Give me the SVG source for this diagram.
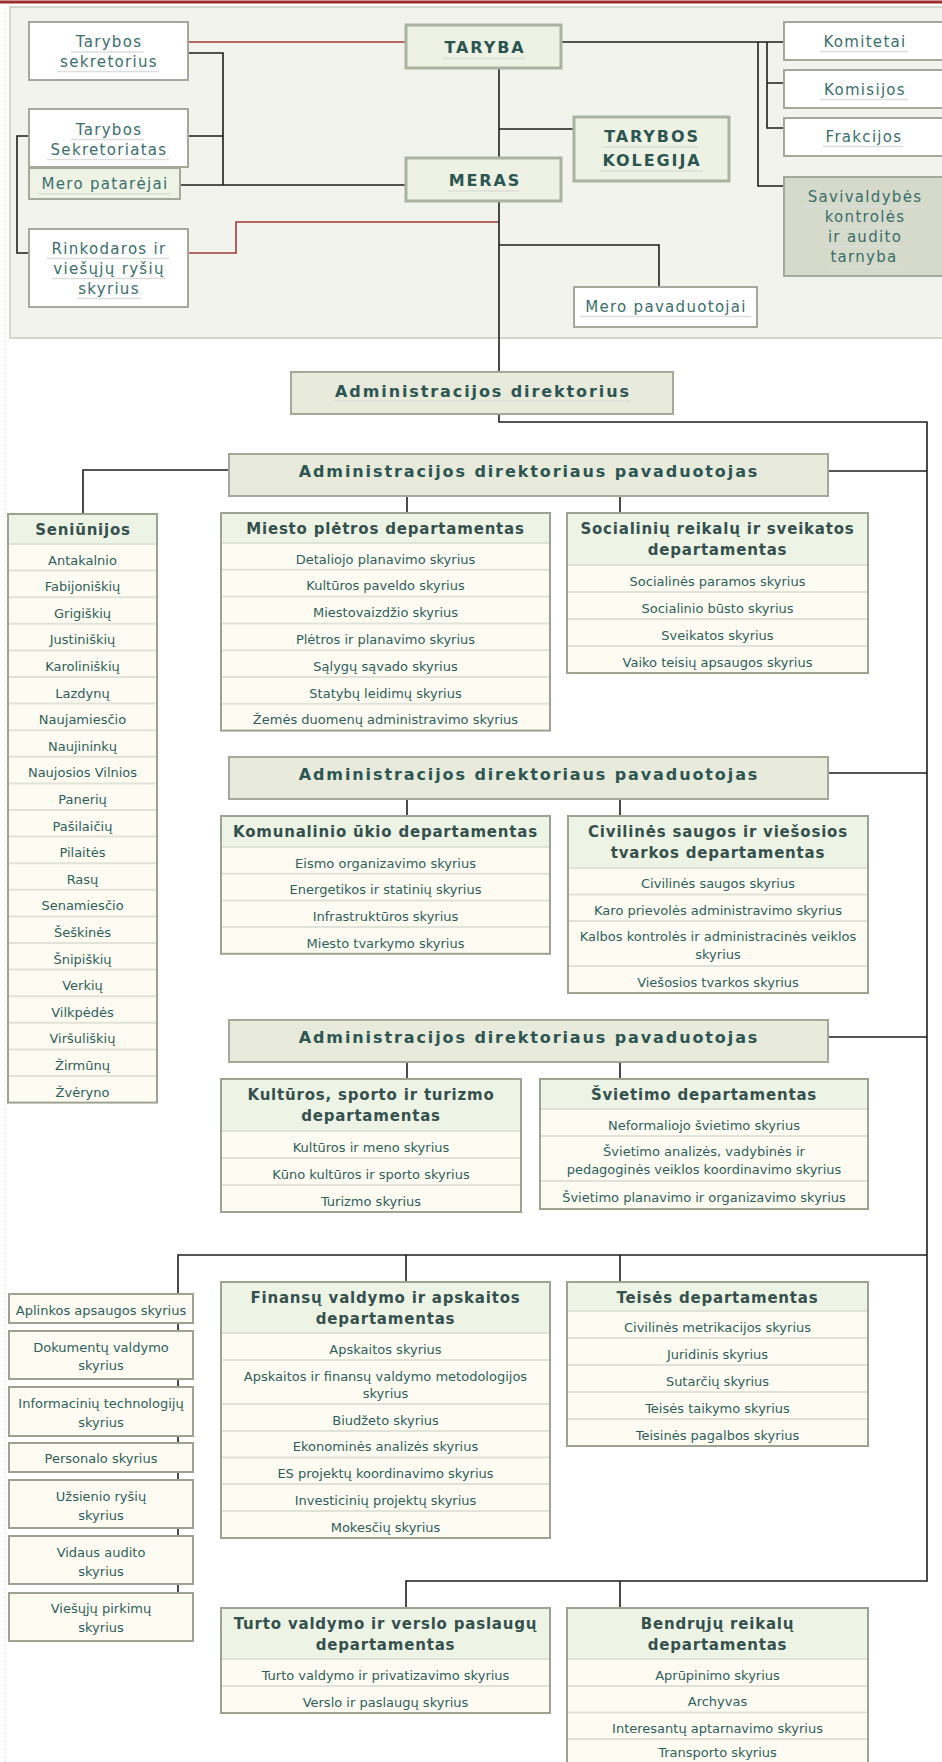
<svg xmlns="http://www.w3.org/2000/svg" width="942" height="1762" viewBox="0 0 942 1762">
<style>
.pn{fill:#f3f3ee;stroke:#c6ccc0;stroke-width:1.5}
.bw{fill:#fff;stroke:#a4a99a;stroke-width:2}
.bg{fill:#edf2e4;stroke:#a9b3a0;stroke-width:3}
.bp{fill:#eef3e6;stroke:#a4a99a;stroke-width:2}
.bs{fill:#d6dacb;stroke:#a4a99a;stroke-width:2}
.bd{fill:#e8eadb;stroke:#a5aa98;stroke-width:2}
.tb{fill:#fdfbf2;stroke:#9ea391;stroke-width:2}
.th{fill:#edf4e5}
.sep{stroke:#e2e3d8;stroke-width:2}
.ul{stroke:#dcdfd9;stroke-width:1.5}
.c{fill:none;stroke:#1e1e1e;stroke-width:1.6}
.r{fill:none;stroke:#a33a3a;stroke-width:1.6}
text{font-family:"DejaVu Sans",Verdana,sans-serif;text-anchor:middle}
.t1{font-size:15px;letter-spacing:1.3px;fill:#3a6e6b}
.t2{font-size:16px;font-weight:bold;letter-spacing:1.9px;fill:#2d5653}
.hd{font-size:15px;font-weight:bold;letter-spacing:0.8px;fill:#35504d}
.rw{font-size:13px;fill:#2f5f5b}
</style>
<rect x="0" y="0" width="942" height="1762" fill="#fff"/>
<line x1="0" y1="2" x2="942" y2="2" stroke="#9b2d2d" stroke-width="3"/>
<line x1="5" y1="8" x2="5" y2="1762" stroke="#e6e6e6" stroke-dasharray="2,2"/>
<rect class="pn" x="10" y="7" width="940" height="331"/>

<g id="connectors">
<path class="r" d="M188 42H406"/>
<path class="r" d="M188 253H236V222H499"/>
<path class="c" d="M188 53H223V185M188 136H223M180 185H406"/>
<path class="c" d="M29 136H17V253H29"/>
<path class="c" d="M499 68V158M499 129H574M499 201V372M499 245H659V287"/>
<path class="c" d="M561 42H784M758 42V186H784M767 42V128H784M767 83H784"/>
<path class="c" d="M499 414V422H927V1581H406V1608M620 1581V1608"/>
<path class="c" d="M828 471H927M828 773H927M828 1037H927"/>
<path class="c" d="M229 470H83V514M407 496V513M620 496V513"/>
<path class="c" d="M407 799V816M620 799V816M407 1062V1079M620 1062V1079"/>
<path class="c" d="M178 1593V1255H927M406 1255V1282M620 1255V1282"/>
</g>

<g id="tarybos-sekretorius">
<rect class="bw" x="29" y="22" width="159" height="58"/>
<line class="ul" x1="71" y1="52" x2="144" y2="52"/><line class="ul" x1="57" y1="71.5" x2="159" y2="71.5"/>
<text class="t1" x="109" y="47">Tarybos</text><text class="t1" x="109" y="66.5">sekretorius</text>
</g>
<g id="tarybos-sekretoriatas">
<rect class="bw" x="29" y="109" width="159" height="58"/>
<line class="ul" x1="71" y1="139.5" x2="144" y2="139.5"/><line class="ul" x1="47" y1="159.5" x2="169" y2="159.5"/>
<text class="t1" x="109" y="134.5">Tarybos</text><text class="t1" x="109" y="154.5">Sekretoriatas</text>
</g>
<g id="mero-patarejai">
<rect class="bp" x="29" y="168" width="151" height="31"/>
<line class="ul" x1="38" y1="194" x2="171" y2="194"/>
<text class="t1" x="105" y="189">Mero patarėjai</text>
</g>
<g id="rinkodaros">
<rect class="bw" x="29" y="229" width="159" height="78"/>
<line class="ul" x1="47" y1="258.5" x2="169" y2="258.5"/><line class="ul" x1="52" y1="278.5" x2="166" y2="278.5"/><line class="ul" x1="77" y1="298.5" x2="141" y2="298.5"/>
<text class="t1" x="109" y="253.5">Rinkodaros ir</text><text class="t1" x="109" y="273.5">viešųjų ryšių</text><text class="t1" x="109" y="293.5">skyrius</text>
</g>
<g id="taryba">
<rect class="bg" x="406" y="25" width="155" height="43"/>
<line class="ul" x1="443" y1="58.5" x2="525" y2="58.5"/>
<text class="t2" x="485" y="53">TARYBA</text>
</g>
<g id="meras">
<rect class="bg" x="406" y="158" width="155" height="43"/>
<line class="ul" x1="448" y1="191" x2="519" y2="191"/>
<text class="t2" x="485" y="186">MERAS</text>
</g>
<g id="tarybos-kolegija">
<rect class="bg" x="574" y="117" width="155" height="64"/>
<line class="ul" x1="603" y1="147" x2="699" y2="147"/><line class="ul" x1="600" y1="171" x2="703" y2="171"/>
<text class="t2" x="652" y="141.5">TARYBOS</text><text class="t2" x="652" y="165.5">KOLEGIJA</text>
</g>
<g id="komitetai">
<rect class="bw" x="784" y="22" width="170" height="38"/>
<line class="ul" x1="820" y1="51.5" x2="908" y2="51.5"/>
<text class="t1" x="865" y="46.5">Komitetai</text>
</g>
<g id="komisijos">
<rect class="bw" x="784" y="70" width="170" height="38"/>
<line class="ul" x1="820" y1="99.5" x2="908" y2="99.5"/>
<text class="t1" x="865" y="94.5">Komisijos</text>
</g>
<g id="frakcijos">
<rect class="bw" x="784" y="118" width="170" height="38"/>
<line class="ul" x1="823" y1="146.5" x2="903" y2="146.5"/>
<text class="t1" x="864" y="141.5">Frakcijos</text>
</g>
<g id="savivaldybes-kontrole">
<rect class="bs" x="784" y="177" width="170" height="99"/>
<line class="ul" x1="804" y1="206.5" x2="923" y2="206.5"/><line class="ul" x1="821" y1="226.5" x2="906" y2="226.5"/><line class="ul" x1="825" y1="246.5" x2="901" y2="246.5"/><line class="ul" x1="827" y1="266.5" x2="897" y2="266.5"/>
<text class="t1" x="865" y="201.5">Savivaldybės</text><text class="t1" x="865" y="221.5">kontrolės</text><text class="t1" x="865" y="241.5">ir audito</text><text class="t1" x="864" y="261.5">tarnyba</text>
</g>
<g id="mero-pavaduotojai">
<rect class="bw" x="574" y="287" width="183" height="40"/>
<line class="ul" x1="580" y1="316.5" x2="751" y2="316.5"/>
<text class="t1" x="666" y="311.5">Mero pavaduotojai</text>
</g>
<g id="administracijos-direktorius">
<rect class="bd" x="291" y="372" width="382" height="42"/>
<line class="ul" x1="334" y1="401" x2="630" y2="401"/>
<text class="t2" x="483" y="396.5">Administracijos direktorius</text>
</g>
<g id="pavaduotojas-1">
<rect class="bd" x="229" y="454" width="599" height="42"/>
<text class="t2" x="529" y="477">Administracijos direktoriaus pavaduotojas</text>
</g>
<g id="pavaduotojas-2">
<rect class="bd" x="229" y="757" width="599" height="42"/>
<text class="t2" x="529" y="780">Administracijos direktoriaus pavaduotojas</text>
</g>
<g id="pavaduotojas-3">
<rect class="bd" x="229" y="1020" width="599" height="42"/>
<text class="t2" x="529" y="1043">Administracijos direktoriaus pavaduotojas</text>
</g>

<g id="seniunijos">
<rect class="tb" x="8" y="514" width="149" height="588.6"/>
<rect class="th" x="9" y="515" width="147" height="29"/>
<path class="sep" d="M9 544H156M9 570.6H156M9 597.2H156M9 623.8H156M9 650.4H156M9 677H156M9 703.6H156M9 730.2H156M9 756.8H156M9 783.4H156M9 810H156M9 836.6H156M9 863.2H156M9 889.8H156M9 916.4H156M9 943H156M9 969.6H156M9 996.2H156M9 1022.8H156M9 1049.4H156M9 1076H156"/>
<text class="hd" x="83" y="535">Seniūnijos</text>
<text class="rw" x="82.5" y="564.5">Antakalnio</text>
<text class="rw" x="82.5" y="591.1">Fabijoniškių</text>
<text class="rw" x="82.5" y="617.7">Grigiškių</text>
<text class="rw" x="82.5" y="644.3">Justiniškių</text>
<text class="rw" x="82.5" y="670.9">Karoliniškių</text>
<text class="rw" x="82.5" y="697.5">Lazdynų</text>
<text class="rw" x="82.5" y="724.1">Naujamiesčio</text>
<text class="rw" x="82.5" y="750.7">Naujininkų</text>
<text class="rw" x="82.5" y="777.3">Naujosios Vilnios</text>
<text class="rw" x="82.5" y="803.9">Panerių</text>
<text class="rw" x="82.5" y="830.5">Pašilaičių</text>
<text class="rw" x="82.5" y="857.1">Pilaitės</text>
<text class="rw" x="82.5" y="883.7">Rasų</text>
<text class="rw" x="82.5" y="910.3">Senamiesčio</text>
<text class="rw" x="82.5" y="936.9">Šeškinės</text>
<text class="rw" x="82.5" y="963.5">Šnipiškių</text>
<text class="rw" x="82.5" y="990.1">Verkių</text>
<text class="rw" x="82.5" y="1016.7">Vilkpėdės</text>
<text class="rw" x="82.5" y="1043.3">Viršuliškių</text>
<text class="rw" x="82.5" y="1069.9">Žirmūnų</text>
<text class="rw" x="82.5" y="1096.5">Žvėryno</text>
</g>

<g id="miesto-pletros">
<rect class="tb" x="221" y="513" width="329" height="217.6"/>
<rect class="th" x="222" y="514" width="327" height="29"/>
<path class="sep" d="M222 543H549M222 569.8H549M222 596.6H549M222 623.4H549M222 650.2H549M222 677H549M222 703.8H549"/>
<text class="hd" x="385.5" y="534">Miesto plėtros departamentas</text>
<text class="rw" x="385.5" y="563.5">Detaliojo planavimo skyrius</text>
<text class="rw" x="385.5" y="590.3">Kultūros paveldo skyrius</text>
<text class="rw" x="385.5" y="617.1">Miestovaizdžio skyrius</text>
<text class="rw" x="385.5" y="643.9">Plėtros ir planavimo skyrius</text>
<text class="rw" x="385.5" y="670.7">Sąlygų sąvado skyrius</text>
<text class="rw" x="385.5" y="697.5">Statybų leidimų skyrius</text>
<text class="rw" x="385.5" y="724.3">Žemės duomenų administravimo skyrius</text>
</g>

<g id="socialiniu-reikalu">
<rect class="tb" x="567" y="513" width="301" height="160"/>
<rect class="th" x="568" y="514" width="299" height="51"/>
<path class="sep" d="M568 565H867M568 592H867M568 619H867M568 646H867"/>
<text class="hd" x="717.5" y="534">Socialinių reikalų ir sveikatos</text>
<text class="hd" x="717.5" y="555">departamentas</text>
<text class="rw" x="717.5" y="585.5">Socialinės paramos skyrius</text>
<text class="rw" x="717.5" y="612.5">Socialinio būsto skyrius</text>
<text class="rw" x="717.5" y="639.5">Sveikatos skyrius</text>
<text class="rw" x="717.5" y="666.5">Vaiko teisių apsaugos skyrius</text>
</g>

<g id="komunalinio-ukio">
<rect class="tb" x="221" y="816" width="329" height="137.8"/>
<rect class="th" x="222" y="817" width="327" height="30"/>
<path class="sep" d="M222 847H549M222 873.7H549M222 900.4H549M222 927.1H549"/>
<text class="hd" x="385.5" y="837">Komunalinio ūkio departamentas</text>
<text class="rw" x="385.5" y="867.5">Eismo organizavimo skyrius</text>
<text class="rw" x="385.5" y="894.2">Energetikos ir statinių skyrius</text>
<text class="rw" x="385.5" y="920.9">Infrastruktūros skyrius</text>
<text class="rw" x="385.5" y="947.6">Miesto tvarkymo skyrius</text>
</g>

<g id="civilines-saugos">
<rect class="tb" x="568" y="816" width="300" height="177"/>
<rect class="th" x="569" y="817" width="298" height="51"/>
<path class="sep" d="M569 868H867M569 894.5H867M569 921H867M569 966H867"/>
<text class="hd" x="718" y="837">Civilinės saugos ir viešosios</text>
<text class="hd" x="718" y="858">tvarkos departamentas</text>
<text class="rw" x="718" y="888">Civilinės saugos skyrius</text>
<text class="rw" x="718" y="914.5">Karo prievolės administravimo skyrius</text>
<text class="rw" x="718" y="941">Kalbos kontrolės ir administracinės veiklos</text>
<text class="rw" x="718" y="959">skyrius</text>
<text class="rw" x="718" y="986.5">Viešosios tvarkos skyrius</text>
</g>

<g id="kulturos-sporto">
<rect class="tb" x="221" y="1079" width="300" height="133"/>
<rect class="th" x="222" y="1080" width="298" height="51"/>
<path class="sep" d="M222 1131H520M222 1158H520M222 1185H520"/>
<text class="hd" x="371" y="1100">Kultūros, sporto ir turizmo</text>
<text class="hd" x="371" y="1121">departamentas</text>
<text class="rw" x="371" y="1151.5">Kultūros ir meno skyrius</text>
<text class="rw" x="371" y="1178.5">Kūno kultūros ir sporto skyrius</text>
<text class="rw" x="371" y="1205.5">Turizmo skyrius</text>
</g>

<g id="svietimo">
<rect class="tb" x="540" y="1079" width="328" height="130"/>
<rect class="th" x="541" y="1080" width="326" height="29"/>
<path class="sep" d="M541 1109H867M541 1136H867M541 1181H867"/>
<text class="hd" x="704" y="1100">Švietimo departamentas</text>
<text class="rw" x="704" y="1129.5">Neformaliojo švietimo skyrius</text>
<text class="rw" x="704" y="1156">Švietimo analizės, vadybinės ir</text>
<text class="rw" x="704" y="1174">pedagoginės veiklos koordinavimo skyrius</text>
<text class="rw" x="704" y="1201.5">Švietimo planavimo ir organizavimo skyrius</text>
</g>

<g id="finansu-valdymo">
<rect class="tb" x="221" y="1282" width="329" height="256"/>
<rect class="th" x="222" y="1283" width="327" height="50"/>
<path class="sep" d="M222 1333H549M222 1360H549M222 1404H549M222 1431H549M222 1457.5H549M222 1484H549M222 1511H549"/>
<text class="hd" x="385.5" y="1303">Finansų valdymo ir apskaitos</text>
<text class="hd" x="385.5" y="1324">departamentas</text>
<text class="rw" x="385.5" y="1353.5">Apskaitos skyrius</text>
<text class="rw" x="385.5" y="1380.5">Apskaitos ir finansų valdymo metodologijos</text>
<text class="rw" x="385.5" y="1397.5">skyrius</text>
<text class="rw" x="385.5" y="1424.5">Biudžeto skyrius</text>
<text class="rw" x="385.5" y="1451">Ekonominės analizės skyrius</text>
<text class="rw" x="385.5" y="1477.5">ES projektų koordinavimo skyrius</text>
<text class="rw" x="385.5" y="1504.5">Investicinių projektų skyrius</text>
<text class="rw" x="385.5" y="1531.5">Mokesčių skyrius</text>
</g>

<g id="teises">
<rect class="tb" x="567" y="1282" width="301" height="164"/>
<rect class="th" x="568" y="1283" width="299" height="28"/>
<path class="sep" d="M568 1311H867M568 1338H867M568 1365H867M568 1392H867M568 1419H867"/>
<text class="hd" x="717.5" y="1303">Teisės departamentas</text>
<text class="rw" x="717.5" y="1331.5">Civilinės metrikacijos skyrius</text>
<text class="rw" x="717.5" y="1358.5">Juridinis skyrius</text>
<text class="rw" x="717.5" y="1385.5">Sutarčių skyrius</text>
<text class="rw" x="717.5" y="1412.5">Teisės taikymo skyrius</text>
<text class="rw" x="717.5" y="1439.5">Teisinės pagalbos skyrius</text>
</g>

<g id="turto-valdymo">
<rect class="tb" x="221" y="1608" width="329" height="105"/>
<rect class="th" x="222" y="1609" width="327" height="50"/>
<path class="sep" d="M222 1659H549M222 1686H549"/>
<text class="hd" x="385.5" y="1629">Turto valdymo ir verslo paslaugų</text>
<text class="hd" x="385.5" y="1650">departamentas</text>
<text class="rw" x="385.5" y="1679.5">Turto valdymo ir privatizavimo skyrius</text>
<text class="rw" x="385.5" y="1706.5">Verslo ir paslaugų skyrius</text>
</g>

<g id="bendruju-reikalu">
<rect class="tb" x="567" y="1608" width="301" height="158"/>
<rect class="th" x="568" y="1609" width="299" height="50"/>
<path class="sep" d="M568 1659H867M568 1686H867M568 1712.5H867M568 1739H867"/>
<text class="hd" x="717.5" y="1629">Bendrųjų reikalų</text>
<text class="hd" x="717.5" y="1650">departamentas</text>
<text class="rw" x="717.5" y="1679.5">Aprūpinimo skyrius</text>
<text class="rw" x="717.5" y="1706">Archyvas</text>
<text class="rw" x="717.5" y="1732.5">Interesantų aptarnavimo skyrius</text>
<text class="rw" x="717.5" y="1757">Transporto skyrius</text>
</g>

<g id="aplinkos-apsaugos">
<rect class="tb" x="9" y="1294" width="184" height="29"/>
<text class="rw" x="101" y="1314.5">Aplinkos apsaugos skyrius</text>
</g>
<g id="dokumentu-valdymo">
<rect class="tb" x="9" y="1331" width="184" height="48"/>
<text class="rw" x="101" y="1351.5">Dokumentų valdymo</text><text class="rw" x="101" y="1370">skyrius</text>
</g>
<g id="informaciniu-technologiju">
<rect class="tb" x="9" y="1387" width="184" height="49"/>
<text class="rw" x="101" y="1407.5">Informacinių technologijų</text><text class="rw" x="101" y="1426.5">skyrius</text>
</g>
<g id="personalo">
<rect class="tb" x="9" y="1443" width="184" height="29"/>
<text class="rw" x="101" y="1463">Personalo skyrius</text>
</g>
<g id="uzsienio-rysiu">
<rect class="tb" x="9" y="1480" width="184" height="48"/>
<text class="rw" x="101" y="1501">Užsienio ryšių</text><text class="rw" x="101" y="1519.5">skyrius</text>
</g>
<g id="vidaus-audito">
<rect class="tb" x="9" y="1536" width="184" height="48"/>
<text class="rw" x="101" y="1557">Vidaus audito</text><text class="rw" x="101" y="1575.5">skyrius</text>
</g>
<g id="viesuju-pirkimu">
<rect class="tb" x="9" y="1593" width="184" height="48"/>
<text class="rw" x="101" y="1612.5">Viešųjų pirkimų</text><text class="rw" x="101" y="1631.5">skyrius</text>
</g>
</svg>
